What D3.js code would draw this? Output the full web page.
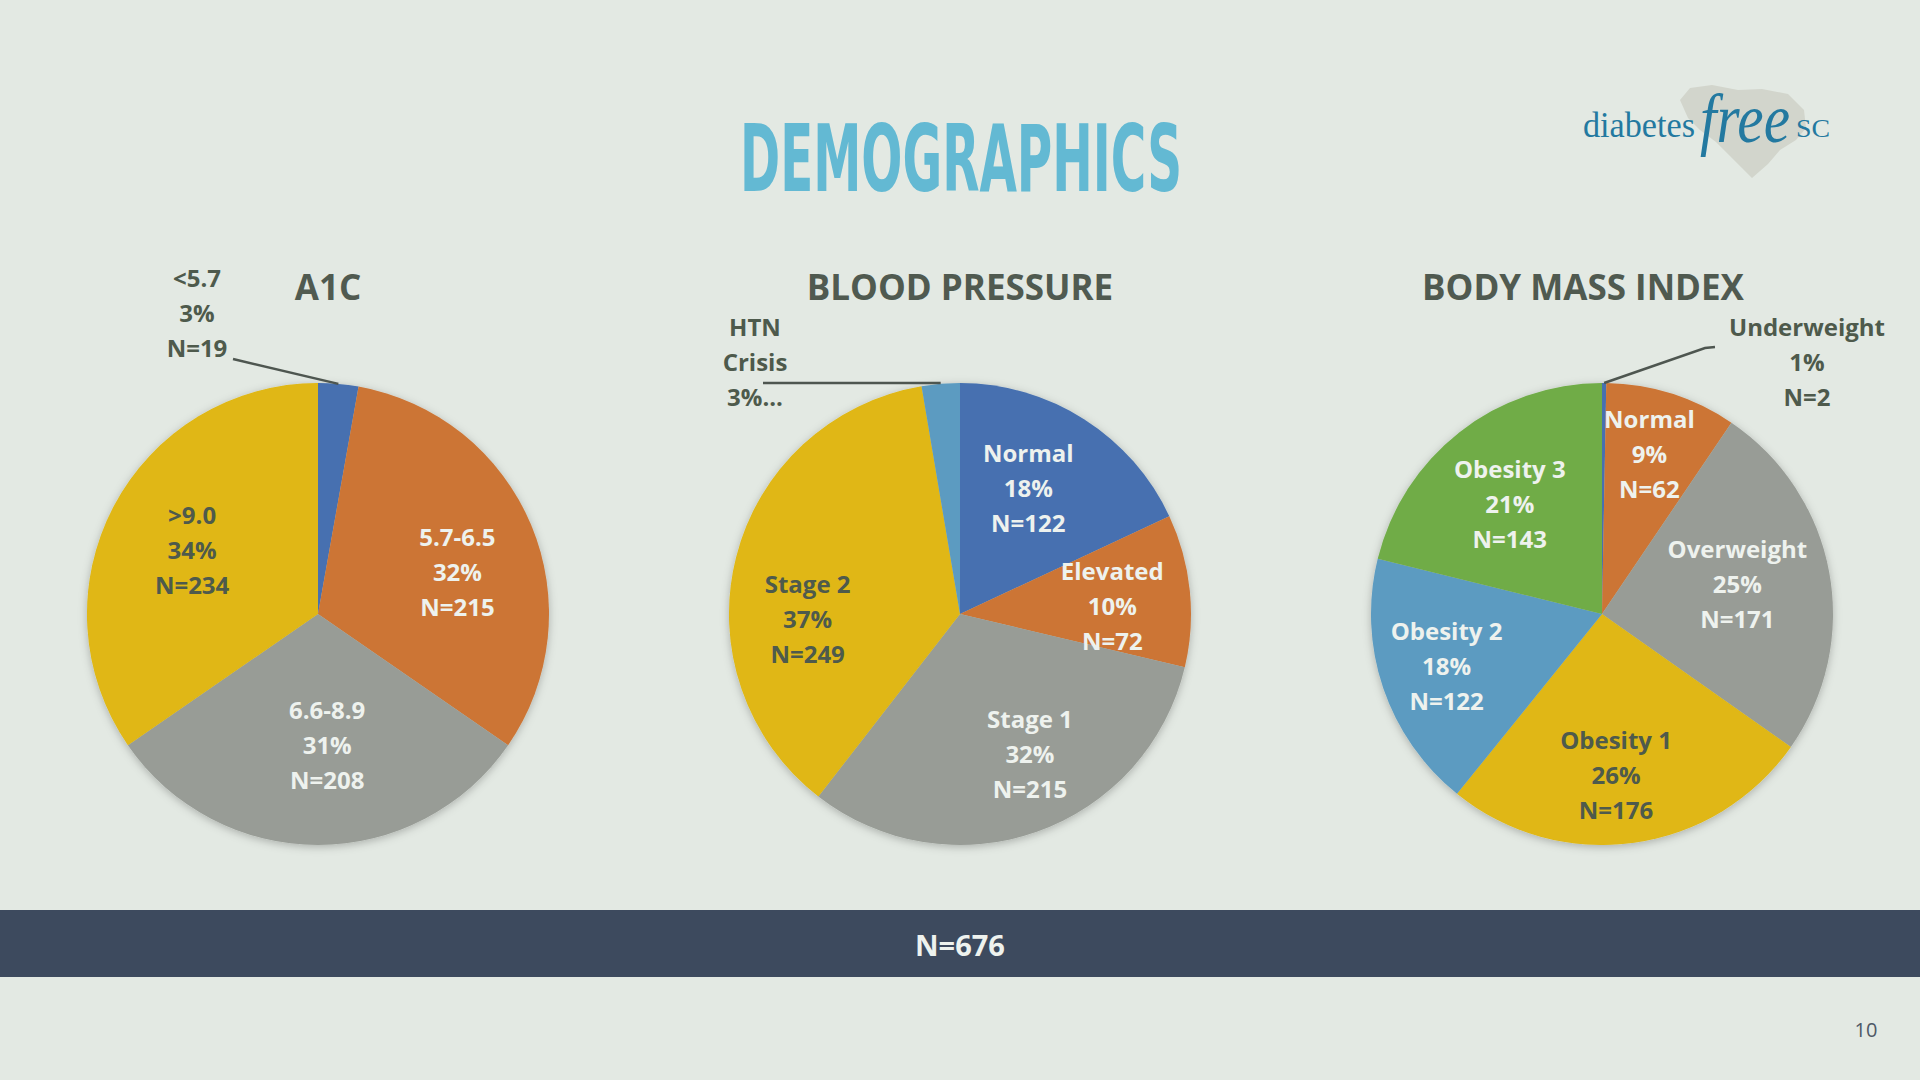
<!DOCTYPE html>
<html>
<head>
<meta charset="utf-8">
<script src="https://cdnjs.cloudflare.com/ajax/libs/d3/7.8.5/d3.min.js"></script>
<style>
  html, body { margin: 0; padding: 0; background: #e3e9e3; }
  svg { display: block; }
</style>
</head>
<body>
<script>
// ---- data ----
const a1cCategories = ['<5.7', '5.7-6.5', '6.6-8.9', '>9.0']
const a1cCounts = [19, 215, 208, 234]
const a1cPercents = ['3%', '32%', '31%', '34%']

const bpCategories = ['Normal', 'Elevated', 'Stage 1', 'Stage 2', 'HTN Crisis']
const bpCounts = [122, 72, 215, 249, 18]
const bpPercents = ['18%', '10%', '32%', '37%', '3%']

const bmiCategories = ['Underweight', 'Normal', 'Overweight', 'Obesity 1', 'Obesity 2', 'Obesity 3']
const bmiCounts = [2, 62, 171, 176, 122, 143]
const bmiPercents = ['1%', '9%', '25%', '26%', '18%', '21%']

const totalN = 676

// ---- look ----
const W = 1920, H = 1080
const R = 231
const colors = {
    blue: '#4670b0', orange: '#cc7535', gray: '#989c96',
    yellow: '#e0b712', lightblue: '#5b9bc1', green: '#6fac47'
}
const darkText = '#4e5a4c'
const lightText = '#eef2ee'
const font = "'Open Sans', 'Noto Sans', sans-serif"
const serif = "'Liberation Serif', 'DejaVu Serif', serif"

const svg = d3.select('body').append('svg')
    .attr('width', W)
    .attr('height', H)

svg.append('rect').attr('width', W).attr('height', H).attr('fill', '#e3e9e3')

const defs = svg.append('defs')
defs.append('filter')
    .attr('id', 'pie-shadow')
    .attr('x', '-20%').attr('y', '-20%').attr('width', '140%').attr('height', '140%')
    .append('feDropShadow')
    .attr('dx', 0).attr('dy', 2).attr('stdDeviation', 4)
    .attr('flood-color', '#000').attr('flood-opacity', 0.25)

// title
svg.append('text')
    .attr('x', 961).attr('y', 191)
    .attr('text-anchor', 'middle')
    .attr('font-family', "'DejaVu Sans', sans-serif")
    .attr('font-weight', 'bold')
    .attr('font-size', 93)
    .attr('textLength', 442)
    .attr('lengthAdjust', 'spacingAndGlyphs')
    .attr('fill', '#63b9d3')
    .text('DEMOGRAPHICS')

// logo
const logo = svg.append('g')
logo.append('path')
    .attr('d', 'M1680,100 L1690,88 L1712,85 L1738,90 L1762,89 L1788,94 L1804,110 L1806,128 L1796,140 L1780,150 L1768,164 L1752,178 L1742,168 L1730,156 L1716,142 L1700,130 L1688,118 Z')
    .attr('fill', '#d2d5cc')
logo.append('text')
    .attr('x', 1583).attr('y', 137)
    .attr('font-family', serif)
    .attr('font-size', 36)
    .attr('textLength', 112)
    .attr('lengthAdjust', 'spacingAndGlyphs')
    .attr('fill', '#2379a0')
    .text('diabetes')
logo.append('text')
    .attr('x', 1700).attr('y', 142)
    .attr('font-family', serif)
    .attr('font-style', 'italic')
    .attr('font-size', 70)
    .attr('textLength', 90)
    .attr('lengthAdjust', 'spacingAndGlyphs')
    .attr('fill', '#2379a0')
    .text('free')
logo.append('text')
    .attr('x', 1796).attr('y', 137)
    .attr('font-family', serif)
    .attr('font-size', 25)
    .attr('textLength', 34)
    .attr('lengthAdjust', 'spacingAndGlyphs')
    .attr('fill', '#2379a0')
    .text('SC')

// ---- charts ----
const charts = [
    {
        title: 'A1C', cx: 318, titleX: 328,
        categories: a1cCategories, counts: a1cCounts, percents: a1cPercents,
        colors: [colors.blue, colors.orange, colors.gray, colors.yellow],
        // label placement: angle nudge (deg) and radius ratio per slice
        nudge: [0, 6, -4, -1], ratio: [0, 0.63, 0.57, 0.61],
        outside: { index: 0, dx: -121, dy: -301, lines: null, from: [-85, -255] }
    },
    {
        title: 'BLOOD PRESSURE', cx: 960, titleX: 960,
        categories: bpCategories, counts: bpCounts, percents: bpPercents,
        colors: [colors.blue, colors.orange, colors.gray, colors.yellow, colors.lightblue],
        nudge: [-4, 3, -7, -16, 0], ratio: [0.62, 0.66, 0.68, 0.66, 0],
        outside: { index: 4, dx: -205, dy: -252, lines: ['HTN', 'Crisis', '3%...'], from: [-197, -231], flat: true }
    },
    {
        title: 'BODY MASS INDEX', cx: 1602, titleX: 1583,
        categories: bmiCategories, counts: bmiCounts, percents: bmiPercents,
        colors: [colors.blue, colors.orange, colors.gray, colors.yellow, colors.lightblue, colors.green],
        nudge: [0, -1, -2, 3, 0, -2], ratio: [0, 0.72, 0.6, 0.7, 0.71, 0.62],
        outside: { index: 0, dx: 205, dy: -252, lines: null, from: [113, -267], elbow: [103, -266] }
    }
]

const cy = 614
const pie = d3.pie().sort(null).value(d => d.count)
const arc = d3.arc().innerRadius(0).outerRadius(R)

function multiLine(g, x, y, lines, fill) {
    const t = g.append('text')
        .attr('text-anchor', 'middle')
        .attr('font-family', font)
        .attr('font-weight', 'bold')
        .attr('font-size', 24)
        .attr('fill', fill)
    lines.forEach((line, i) => {
        t.append('tspan')
            .attr('x', x)
            .attr('y', y + (i - 1) * 35 + 8.5)
            .text(line)
    })
}

charts.forEach(chart => {
    const rows = chart.categories.map((c, i) => ({
        name: c, count: chart.counts[i], pct: chart.percents[i], color: chart.colors[i]
    }))
    const slices = pie(rows)

    svg.append('text')
        .attr('x', chart.titleX).attr('y', 300)
        .attr('text-anchor', 'middle')
        .attr('font-family', font)
        .attr('font-weight', 'bold')
        .attr('font-size', 35)
        .attr('fill', '#505a50')
        .text(chart.title)

    const g = svg.append('g').attr('transform', `translate(${chart.cx},${cy})`)

    g.append('g')
        .attr('filter', 'url(#pie-shadow)')
        .selectAll('path')
        .data(slices)
        .join('path')
        .attr('d', arc)
        .attr('fill', d => d.data.color)

    slices.forEach((s, i) => {
        if (i === chart.outside.index) return
        const a = (s.startAngle + s.endAngle) / 2 + chart.nudge[i] * Math.PI / 180
        const rr = chart.ratio[i] * R
        const [x, y] = d3.arc().innerRadius(rr).outerRadius(rr).centroid({ startAngle: a, endAngle: a })
        const fill = s.data.color === colors.yellow ? darkText : lightText
        multiLine(g, x, y, [s.data.name, s.data.pct, 'N=' + s.data.count], fill)
    })

    // outside label with leader line
    const o = chart.outside
    const s = slices[o.index]
    const lines = o.lines || [s.data.name, s.data.pct, 'N=' + s.data.count]
    multiLine(g, o.dx, o.dy, lines, darkText)

    const mid = (s.startAngle + s.endAngle) / 2
    const [ex, ey] = d3.arc().innerRadius(R).outerRadius(R).centroid({ startAngle: mid, endAngle: mid })
    const pts = [o.from]
    if (o.elbow) pts.push(o.elbow)
    pts.push(o.flat ? [ex, o.from[1]] : [ex, ey])
    g.append('path')
        .attr('d', d3.line()(pts))
        .attr('fill', 'none')
        .attr('stroke', '#4e5650')
        .attr('stroke-width', 2.5)
})

// bottom band
svg.append('rect')
    .attr('x', 0).attr('y', 910)
    .attr('width', W).attr('height', 67)
    .attr('fill', '#3d4a5e')
svg.append('text')
    .attr('x', 960).attr('y', 956)
    .attr('text-anchor', 'middle')
    .attr('font-family', font)
    .attr('font-weight', 'bold')
    .attr('font-size', 29)
    .attr('fill', '#eef2ee')
    .text('N=' + totalN)

svg.append('text')
    .attr('x', 1866).attr('y', 1037)
    .attr('text-anchor', 'middle')
    .attr('font-family', font)
    .attr('font-size', 20)
    .attr('fill', '#4e5866')
    .text('10')
</script>
</body>
</html>
